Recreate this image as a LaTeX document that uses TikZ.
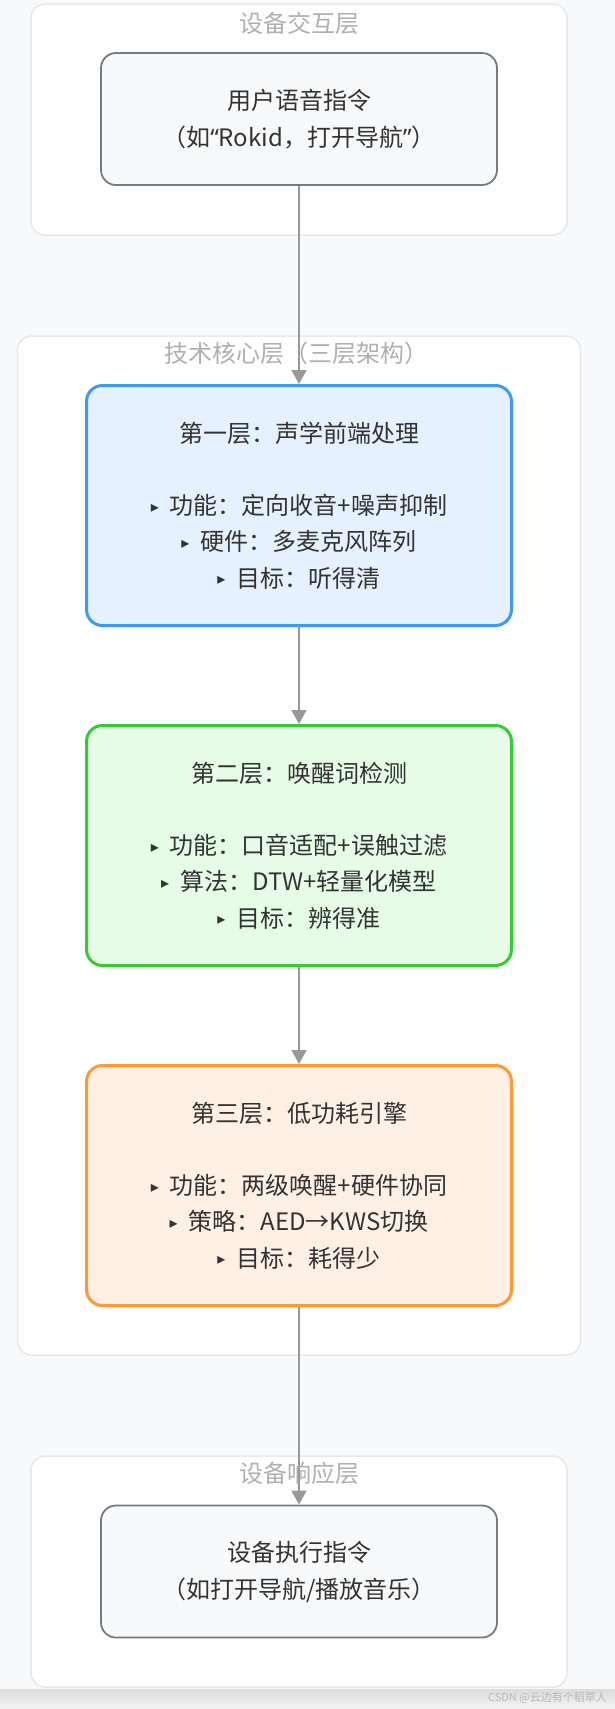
\documentclass[tikz,border=0pt]{standalone}
\usepackage{fontspec}
\setmainfont{Noto Sans CJK SC}
\newfontfamily\dejavu{DejaVu Sans}
\newfontfamily\latinq{Noto Sans}
\usetikzlibrary{arrows.meta}
\definecolor{bgc}{HTML}{F8F9FA}
\definecolor{clborder}{HTML}{E6E8EB}
\definecolor{cltext}{HTML}{B0B0B0}
\definecolor{txt}{HTML}{333333}
\definecolor{grayborder}{HTML}{757B82}
\definecolor{bluefill}{HTML}{E5F1FE}
\definecolor{blueborder}{HTML}{3D9BF7}
\definecolor{greenfill}{HTML}{E6FCE6}
\definecolor{greenborder}{HTML}{33CC33}
\definecolor{orangefill}{HTML}{FFF0E6}
\definecolor{orangeborder}{HTML}{FF9933}
\definecolor{arrowc}{HTML}{999999}
\newcommand{\bul}{\raisebox{2.5pt}{\dejavu\fontsize{16}{16}\selectfont ▸}\hspace{11pt}}
\tikzset{
  cluster/.style={draw=clborder, line width=1.5pt, fill=white, rounded corners=14pt},
  cltitle/.style={text=cltext, font=\fontsize{24}{30}\selectfont, inner sep=0pt},
  endbox/.style={draw=grayborder, line width=1.8pt, fill=bgc, rounded corners=15pt,
    minimum width=396pt, minimum height=132pt, align=center, text=txt,
    font=\fontsize{24}{37}\selectfont, inner sep=0pt},
  layerbox/.style={line width=3pt, rounded corners=16pt,
    minimum width=425pt, minimum height=240pt, align=center, text=txt,
    font=\fontsize{24}{36.2}\selectfont, inner sep=0pt},
  flow/.style={draw=arrowc, line width=1.6pt, -{Triangle[length=14pt,width=15pt]}},
}
\begin{document}
\begin{tikzpicture}[x=1pt,y=-1pt]
\useasboundingbox (0,0) rectangle (615,1709);
\fill[bgc] (0,0) rectangle (615,1709);
\shade[top color=black!14, bottom color=black!4] (0,1689) rectangle (615,1709);
\node[anchor=east, text=black!28, font=\fontsize{11}{11}\selectfont, inner sep=0pt] (wm) at (607,1698) {CSDN @云边有个稻草人};
% clusters
\draw[cluster] (31,4) rectangle (567,235);
\node[cltitle] (t1) at (299,23) {设备交互层};
\draw[cluster] (17.5,336) rectangle (580.5,1355);
\node[cltitle] (t2) at (296,353) {技术核心层（三层架构）};
\draw[cluster] (31,1456) rectangle (567,1687);
\node[cltitle] (t3) at (299,1473) {设备响应层};
% nodes
\node[endbox] (user) at (299,119) {用户语音指令\\（如{\latinq “}Rokid，打开导航{\latinq ”}）};
\node[layerbox, draw=blueborder, fill=bluefill] (l1) at (299,505.5)
  {第一层：声学前端处理\\[36.2pt] \bul 功能：定向收音+噪声抑制\\ \bul 硬件：多麦克风阵列\\ \bul 目标：听得清};
\node[layerbox, draw=greenborder, fill=greenfill] (l2) at (299,845.5)
  {第二层：唤醒词检测\\[36.2pt] \bul 功能：口音适配+误触过滤\\ \bul 算法：DTW+轻量化模型\\ \bul 目标：辨得准};
\node[layerbox, draw=orangeborder, fill=orangefill] (l3) at (299,1185.5)
  {第三层：低功耗引擎\\[36.2pt] \bul 功能：两级唤醒+硬件协同\\ \bul 策略：AED→KWS切换\\ \bul 目标：耗得少};
\node[endbox] (exec) at (299,1571.5) {设备执行指令\\（如打开导航/播放音乐）};
% connectors
\draw[flow] (user) -- (l1);
\draw[flow] (l1) -- (l2);
\draw[flow] (l2) -- (l3);
\draw[flow] (l3) -- (exec);
\end{tikzpicture}
\end{document}
